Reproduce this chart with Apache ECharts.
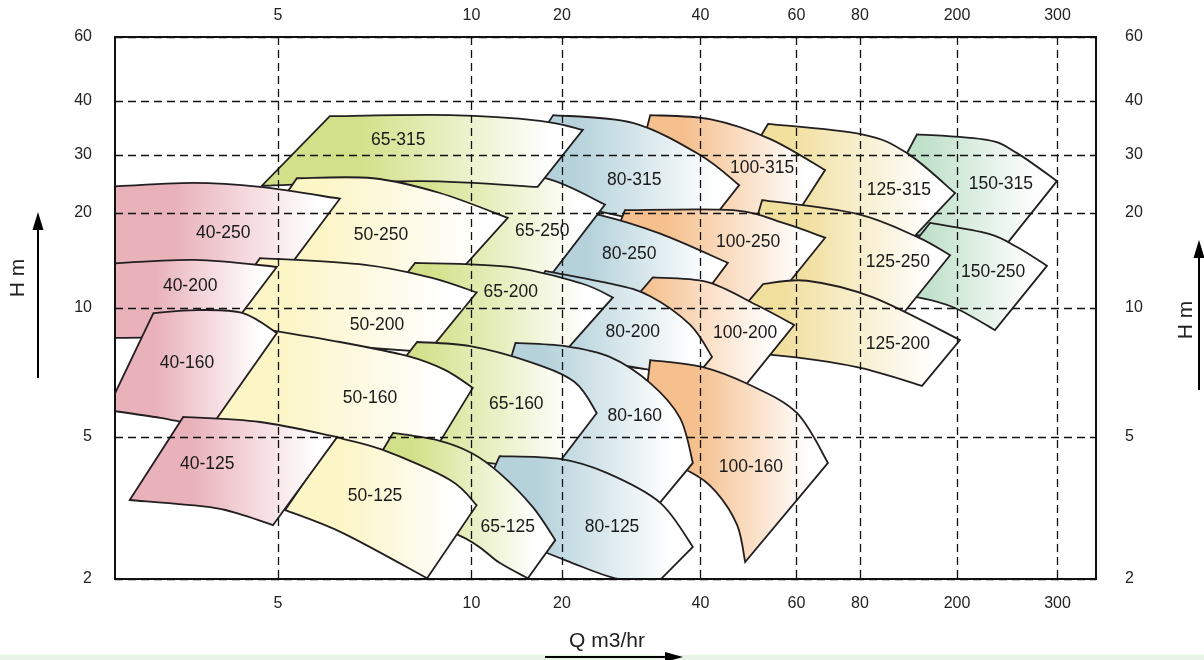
<!DOCTYPE html>
<html>
<head>
<meta charset="utf-8">
<title>Pump selection chart</title>
<script src="https://cdn.jsdelivr.net/npm/echarts/dist/echarts.min.js"></script>
<style>
html,body{margin:0;padding:0;background:#ffffff;}
#chart{width:1204px;height:660px;}
</style>
</head>
<body>
<div id="chart"></div>
<script>
// ================= DATA =================
// Axis tick labels (Q in m3/hr, H in m)
const xTickValues = [5, 10, 20, 40, 60, 80, 200, 300];
const yTickValues = [2, 5, 10, 20, 30, 40, 60];

// Pump tiles, listed in drawing order (back to front)
const tileNames = ['150-315','125-315','100-315','80-315',
  '150-250','125-250','100-250','80-250','65-250','65-315','50-250','40-250',
  '125-200','100-200','80-200','65-200','50-200','40-200',
  '100-160','80-160','65-160','50-160','40-160',
  '80-125','65-125','50-125','40-125'];

// Upper boundary of each tile, [Q, H] from left to right
const tileTop = [
  [[137.1,33.5],[225.7,32.5],[254.8,30.3],[299.3,25.0]],
  [[53.2,35.4],[81.5,33.5],[124.7,30.3],[196.3,23.0]],
  [[31.1,37.1],[41.6,36.3],[53.6,32.7],[68.3,27.0]],
  [[18.7,37.1],[28.5,35.6],[39.9,30.0],[47.1,24.3]],
  [[155.0,18.6],[226.6,17.2],[254.8,15.6],[287.5,13.6]],
  [[51.9,21.9],[78.6,19.9],[137.1,16.8],[187.3,14.7]],
  [[27.4,20.4],[45.9,20.4],[56.7,18.6],[68.3,16.7]],
  [[17.6,21.0],[24.2,19.7],[32.7,17.2],[44.9,13.9]],
  [[7.47,24.5],[9.95,26.6],[17.6,25.5],[24.8,21.2]],
  [[6.02,36.9],[9.26,37.1],[16.9,36.0],[22.2,34.3]],
  [[5.35,25.5],[7.03,25.5],[8.93,23.0],[13.2,19.3]],
  [[2.69,24.0],[3.69,24.7],[4.69,24.0],[6.24,22.1]],
  [[52.1,11.9],[62.9,12.2],[90.5,10.8],[202.4,8.42]],
  [[31.5,12.5],[41.1,12.1],[50.8,10.2],[59.4,9.13]],
  [[17.6,13.1],[25.8,11.9],[31.1,10.9],[38.0,9.13],[42.0,7.69]],
  [[8.17,13.9],[13.4,13.5],[21.9,12.0],[25.8,10.8]],
  [[4.69,14.4],[6.83,13.7],[8.62,12.5],[10.4,11.2]],
  [[2.69,13.8],[3.71,14.2],[4.98,13.5]],
  [[31.1,7.56],[40.4,7.28],[49.3,6.61],[60.1,5.69],[69.2,4.23]],
  [[14.0,8.29],[20.3,8.15],[25.4,7.69],[31.1,6.68],[36.1,5.54],[38.5,4.23]],
  [[8.23,8.33],[9.95,8.15],[15.7,7.48],[21.3,6.72],[23.8,5.69]],
  [[4.44,9.08],[6.24,8.33],[7.94,7.73],[9.09,7.17],[10.1,6.51]],
  [[3.20,9.73],[3.74,9.89],[4.41,9.73],[4.98,8.74]],
  [[12.4,4.42],[19.7,4.34],[25.1,3.96],[32.7,3.27],[38.5,2.46]],
  [[7.55,5.11],[8.84,4.90],[10.0,4.51],[12.4,3.96],[16.0,3.18],[19.0,2.57]],
  [[6.13,5.00],[7.28,4.60],[9.26,3.79],[10.4,3.22]],
  [[3.56,5.57],[4.69,5.42],[6.18,5.00]]
];

// Lower boundary of each tile, [Q, H] from right to left
const tileBottom = [
  [[237.9,15.0],[170.4,16.7],[83.9,17.4]],
  [[118.9,15.3],[69.8,19.7],[43.4,21.2]],
  [[57.2,17.4],[43.4,18.7],[27.4,19.7]],
  [[40.8,17.9],[26.7,19.6],[12.9,23.5]],
  [[233.1,8.88],[196.3,10.0],[138.4,10.8],[92.2,11.2]],
  [[118.9,9.63],[69.8,11.4],[47.3,12.7]],
  [[51.2,9.38],[39.9,11.4],[24.2,12.7]],
  [[39.9,10.6],[28.1,11.2],[15.7,12.3]],
  [[18.0,12.4],[9.26,13.0],[6.24,13.7]],
  [[16.6,24.0],[8.32,25.0],[4.72,24.2]],
  [[9.43,12.6],[6.47,13.4],[4.36,14.0]],
  [[5.13,13.0],[3.78,13.4],[2.69,13.4]],
  [[143.7,6.58],[78.9,7.28],[54.1,7.77],[40.8,7.89]],
  [[47.3,6.37],[38.0,6.98],[21.9,7.48]],
  [[38.9,6.87],[26.7,7.36],[12.4,7.89]],
  [[20.0,7.77],[10.7,7.73],[6.49,8.20]],
  [[8.56,7.89],[6.02,8.20],[3.85,8.65]],
  [[4.03,8.20],[3.34,8.51],[2.69,8.51]],
  [[48.3,2.23],[46.7,2.83],[42.7,3.51],[38.0,3.99],[29.5,4.60]],
  [[31.4,3.08],[21.9,4.04],[10.7,4.26]],
  [[18.7,4.04],[10.7,4.26],[6.24,4.84]],
  [[8.62,4.37],[6.02,4.60],[3.71,5.19]],
  [[3.92,5.25],[3.28,5.54],[2.71,5.78]],
  [[32.7,1.99],[26.5,2.00],[20.3,2.26],[9.95,2.89]],
  [[15.4,2.01],[12.4,2.22],[9.53,2.66],[6.54,3.33]],
  [[8.53,2.01],[6.31,2.69],[5.13,3.12]],
  [[4.91,2.83],[4.41,3.02],[3.92,3.18],[2.94,3.33]]
];

// Where each tile's name sits, [Q, H]
const tileLabelAt = [
  [238.8,24.5],[115.6,23.5],[51.9,27.4],[28.7,25.2],
  [231.3,13.0],[114.5,14.0],[48.9,16.2],[28.0,14.8],[17.2,17.5],[7.69,32.5],[7.23,17.0],[4.11,17.2],
  [114.5,8.24],[48.3,8.74],[28.5,8.79],[13.5,11.2],[7.13,9.13],[3.65,11.7],
  [49.5,4.12],[28.8,5.60],[14.1,5.97],[6.95,6.17],[3.61,7.44],
  [25.7,2.80],[13.2,2.80],[7.08,3.42],[3.88,4.20]
];

// ================= STYLE / LAYOUT =================
const familyColors = {
  '40': '#e9b2bb', '50': '#fcf5c6', '65': '#d2e189', '80': '#b5d2db',
  '100': '#f5c08e', '125': '#f1df9e', '150': '#bfe0c9'
};
// The printed axes are schematic: tick marks sit at these distances (px) along the plot
const X_SPAN = 981, Y_SPAN = 542;
const xTickPos = [163, 356.5, 447, 585.5, 681.5, 745, 842, 942.5];
const yTickPos = [0, 142, 271, 366, 424, 478, 542];

function scalePos(values, positions, v) {
  const lv = Math.log10(v);
  let i = 0;
  while (i < values.length - 2 && lv > Math.log10(values[i + 1])) i++;
  const la = Math.log10(values[i]), lb = Math.log10(values[i + 1]);
  return positions[i] + (lv - la) / (lb - la) * (positions[i + 1] - positions[i]);
}
const xPosOf = q => scalePos(xTickValues, xTickPos, q);
const yPosOf = h => scalePos(yTickValues, yTickPos, h);

function curveThrough(pts) {
  let d = '';
  for (let k = 0; k < pts.length - 1; k++) {
    const p0 = pts[k - 1] || pts[k], p1 = pts[k], p2 = pts[k + 1], p3 = pts[k + 2] || pts[k + 1];
    const c1x = p1[0] + (p2[0] - p0[0]) / 6, c1y = p1[1] + (p2[1] - p0[1]) / 6;
    const c2x = p2[0] - (p3[0] - p1[0]) / 6, c2y = p2[1] - (p3[1] - p1[1]) / 6;
    d += ' C' + c1x + ' ' + c1y + ' ' + c2x + ' ' + c2y + ' ' + p2[0] + ' ' + p2[1];
  }
  return d;
}

function renderTile(params, api) {
  const i = params.dataIndex;
  const toPx = p => api.coord([xPosOf(p[0]), yPosOf(p[1])]);
  const top = tileTop[i].map(toPx);
  const bot = tileBottom[i].map(toPx);
  const d = 'M' + top[0][0] + ' ' + top[0][1] + curveThrough(top) +
            ' L' + bot[0][0] + ' ' + bot[0][1] + curveThrough(bot) + ' Z';
  const c = familyColors[tileNames[i].split('-')[0]];
  return {
    type: 'path',
    shape: { pathData: d },
    style: {
      fill: { type: 'linear', x: 0, y: 0, x2: 1, y2: 0,
        colorStops: [{ offset: 0, color: c }, { offset: 0.3, color: c }, { offset: 0.9, color: '#ffffff' }] },
      stroke: '#231f20', lineWidth: 1.8, lineJoin: 'miter'
    }
  };
}

function renderLabel(params, api) {
  const i = params.dataIndex;
  const p = api.coord([xPosOf(tileLabelAt[i][0]), yPosOf(tileLabelAt[i][1])]);
  return {
    type: 'text', x: p[0], y: p[1],
    style: { text: tileNames[i], fill: '#1a1a1a', font: '17.5px "Liberation Sans", Arial, sans-serif',
      align: 'center', verticalAlign: 'middle' }
  };
}

const fmt = (vals, pos) => v => {
  const k = pos.findIndex(p => Math.abs(p - v) < 1e-6);
  return k < 0 ? '' : String(vals[k]);
};
const tickFont = { color: '#222', fontSize: 16, fontFamily: 'Liberation Sans' };
const borderLine = { show: true, onZero: false, lineStyle: { color: '#111', width: 2 } };
const gridLine = { show: true, lineStyle: { color: '#111', width: 1.3, type: [8, 5] } };

const tileData = tileNames.map((n, i) => [i, 0]);

const option = {
  animation: false,
  backgroundColor: '#ffffff',
  grid: { left: 115, top: 37, width: X_SPAN, height: Y_SPAN, show: false },
  xAxis: [
    { type: 'value', position: 'bottom', min: 0, max: X_SPAN, z: 5,
      axisLine: borderLine, axisTick: { show: false, customValues: xTickPos },
      axisLabel: Object.assign({ customValues: xTickPos, formatter: fmt(xTickValues, xTickPos), margin: 17 }, tickFont),
      splitLine: gridLine },
    { type: 'value', position: 'top', min: 0, max: X_SPAN, z: 5,
      axisLine: borderLine, axisTick: { show: false, customValues: xTickPos },
      axisLabel: Object.assign({ customValues: xTickPos, formatter: fmt(xTickValues, xTickPos), margin: 13 }, tickFont),
      splitLine: { show: false } }
  ],
  yAxis: [
    { type: 'value', position: 'left', min: 0, max: Y_SPAN, z: 5,
      axisLine: borderLine, axisTick: { show: false, customValues: yTickPos },
      axisLabel: Object.assign({ customValues: yTickPos, formatter: fmt(yTickValues, yTickPos), margin: 23 }, tickFont),
      splitLine: gridLine },
    { type: 'value', position: 'right', min: 0, max: Y_SPAN, z: 5,
      axisLine: borderLine, axisTick: { show: false, customValues: yTickPos },
      axisLabel: Object.assign({ customValues: yTickPos, formatter: fmt(yTickValues, yTickPos), margin: 29 }, tickFont),
      splitLine: { show: false } }
  ],
  series: [
    { type: 'custom', name: 'tiles', coordinateSystem: 'cartesian2d', xAxisIndex: 0, yAxisIndex: 0,
      clip: true, silent: true, z: 2, renderItem: renderTile, data: tileData },
    { type: 'custom', name: 'labels', coordinateSystem: 'cartesian2d', xAxisIndex: 0, yAxisIndex: 0,
      clip: false, silent: true, z: 6, renderItem: renderLabel, data: tileData }
  ],
  graphic: [
    { type: 'rect', shape: { x: 0, y: 655, width: 1204, height: 5 }, style: { fill: '#e8f5e6' } },
    { type: 'text', x: 18, y: 278, rotation: Math.PI / 2,
      style: { text: 'H m', font: '21px "Liberation Sans", Arial, sans-serif', fill: '#222', align: 'center', verticalAlign: 'middle' } },
    { type: 'line', shape: { x1: 38, y1: 378, x2: 38, y2: 226 }, style: { stroke: '#000', lineWidth: 2 } },
    { type: 'polygon', shape: { points: [[38, 212], [32.5, 230], [43.5, 230]] }, style: { fill: '#000' } },
    { type: 'text', x: 1186, y: 320, rotation: Math.PI / 2,
      style: { text: 'H m', font: '21px "Liberation Sans", Arial, sans-serif', fill: '#222', align: 'center', verticalAlign: 'middle' } },
    { type: 'line', shape: { x1: 1199, y1: 390, x2: 1199, y2: 255 }, style: { stroke: '#000', lineWidth: 2 } },
    { type: 'polygon', shape: { points: [[1199, 240], [1193.5, 258], [1204.5, 258]] }, style: { fill: '#000' } },
    { type: 'text', x: 607, y: 641,
      style: { text: 'Q m3/hr', font: '21px "Liberation Sans", Arial, sans-serif', fill: '#222', align: 'center', verticalAlign: 'middle' } },
    { type: 'line', shape: { x1: 545, y1: 657, x2: 668, y2: 657 }, style: { stroke: '#000', lineWidth: 2 } },
    { type: 'polygon', shape: { points: [[683, 657], [665, 652], [665, 662]] }, style: { fill: '#000' } }
  ]
};

const chart = echarts.init(document.getElementById('chart'), null, { renderer: 'canvas' });
chart.setOption(option);
</script>
</body>
</html>
